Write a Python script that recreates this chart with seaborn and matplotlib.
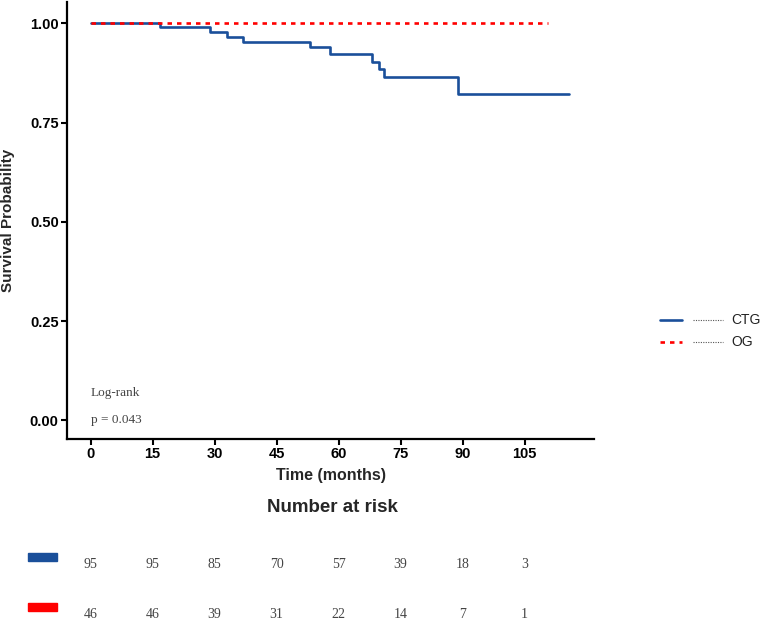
import numpy as np
import pandas as pd
import matplotlib
matplotlib.use("Agg")
import matplotlib.pyplot as plt
import seaborn as sns
from matplotlib.lines import Line2D
from matplotlib.patches import Rectangle

# survival curves
ctg_time = [0, 16.9, 29.0, 33.0, 37.0, 53.0, 58.0, 68.0, 69.8, 71.0, 89.0, 115.7]
ctg_surv = [1.0, 0.990, 0.979, 0.966, 0.954, 0.940, 0.924, 0.904, 0.884, 0.864, 0.821, 0.821]
og_time = [0, 110.7]
og_surv = [1.0, 1.0]

groups = ["CTG", "OG"]
colors = {"CTG": "#1a4f9a", "OG": "#ff0000"}

risk_times = [0, 15, 30, 45, 60, 75, 90, 105]
risk_ctg = [95, 95, 85, 70, 57, 39, 18, 3]
risk_og = [46, 46, 39, 31, 22, 14, 7, 1]
p_text = "p = 0.043"

sns.set_style("ticks")
plt.rcParams['font.family'] = ['Liberation Sans', 'DejaVu Sans']

W, H = 762, 621
fig = plt.figure(figsize=(7.62, 6.21), dpi=100)

ax = fig.add_axes([67 / W, 1 - 439 / H, (594 - 67) / W, (439 - 2) / H])

df_ctg = pd.DataFrame({"time": ctg_time, "surv": ctg_surv})
df_og = pd.DataFrame({"time": og_time, "surv": og_surv})
sns.lineplot(data=df_ctg, x="time", y="surv", ax=ax, color=colors["CTG"],
             drawstyle="steps-post", estimator=None, sort=False, lw=1.9)
sns.lineplot(data=df_og, x="time", y="surv", ax=ax, color=colors["OG"],
             estimator=None, sort=False, lw=1.9, dashes=False, zorder=3)
ax.lines[-1].set_dashes((1.7, 1.9))

ax.set_xlim(-5.7, 121.8)
ax.set_ylim(-0.047, 1.054)
ax.set_xticks(risk_times)
ax.set_yticks([0, 0.25, 0.5, 0.75, 1.0])
ax.set_yticklabels(["0.00", "0.25", "0.50", "0.75", "1.00"])
for lab in ax.get_xticklabels() + ax.get_yticklabels():
    lab.set_fontweight("bold")
    lab.set_fontsize(10.5)
ax.tick_params(width=1.5, length=4, direction="out", colors="black", pad=2)
sns.despine(ax=ax)
for s in ["left", "bottom"]:
    ax.spines[s].set_linewidth(1.6)
    ax.spines[s].set_color("black")

ax.set_xlabel("Time (months)", fontsize=11.5, fontweight="bold", va="top")
ax.set_ylabel("Survival Probability", fontsize=11, fontweight="bold")
ax.xaxis.set_label_coords(0.5, -0.066)
ax.yaxis.set_label_coords(-0.099, 0.5)

ax.text(0, 0.069, "Log-rank", family=["Liberation Serif"], fontsize=9.5,
        color="#444444", va="center", ha="left")
ax.text(0, 0.0, p_text, family=["Liberation Serif"], fontsize=9.5,
        color="#444444", va="center", ha="left")

# legend drawn by hand
for i, g in enumerate(groups):
    yy = 1 - (320 + 22 * i) / H
    ln = Line2D([660 / W, 682 / W], [yy, yy], transform=fig.transFigure,
                color=colors[g], lw=1.9)
    if g == "OG":
        ln.set_dashes((1.7, 1.9))
    fig.add_artist(ln)
    fig.add_artist(Line2D([693 / W, 723 / W], [yy, yy], transform=fig.transFigure,
                          color="#555555", lw=0.8, ls=(0, (1, 1.2))))
    fig.text(731 / W, yy, g, fontsize=10, va="center", ha="left", color="#222222")

# number at risk table
fig.text(332 / W, 1 - 507 / H, "Number at risk", fontsize=13.5, fontweight="bold",
         ha="center", va="center")

rax = fig.add_axes([67 / W, 0, (594 - 67) / W, 91 / H])
rax.set_xlim(ax.get_xlim())
rax.set_ylim(1.14, -0.68)
rax.axis("off")
for row, (g, vals) in enumerate(zip(groups, [risk_ctg, risk_og])):
    rax.add_patch(Rectangle((-15.2, row - 0.22), 7.05, 0.16, color=colors[g],
                            clip_on=False))
    for t, n in zip(risk_times, vals):
        rax.text(t, row, str(n), family=["Liberation Serif"], fontsize=10,
                 color="#444444", ha="center", va="center")

fig.savefig("out.png", dpi=100)
